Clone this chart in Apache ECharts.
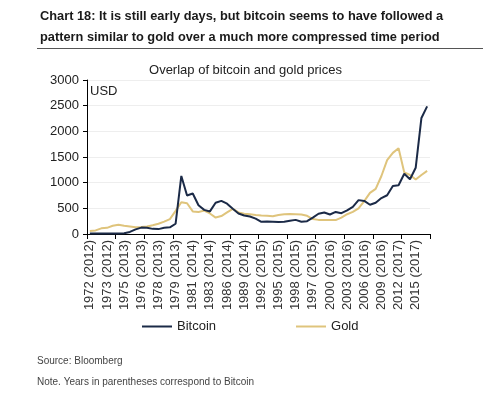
<!DOCTYPE html>
<html>
<head>
<meta charset="utf-8">
<script src="https://cdn.jsdelivr.net/npm/echarts@6/dist/echarts.min.js"></script>
<style>
  html, body { margin: 0; padding: 0; background: #fff; }
  #chart { width: 491px; height: 396px; }
</style>
</head>
<body>
<div id="chart"></div>
<script>
// x labels, one every 3 points (gold year, bitcoin year in brackets)
var xLabels = ['1972 (2012)', '1973 (2012)', '1975 (2013)', '1976 (2013)', '1978 (2013)',
  '1979 (2013)', '1981 (2014)', '1983 (2014)', '1986 (2014)', '1989 (2014)',
  '1992 (2015)', '1995 (2015)', '1998 (2015)', '1997 (2015)', '2000 (2016)',
  '2003 (2016)', '2006 (2016)', '2009 (2016)', '2012 (2017)', '2015 (2017)']

var bitcoin = [10, 8, 8, 10, 10, 12, 15, 40, 90, 125,
  120, 100, 95, 120, 130, 200, 1130, 750, 790, 560,
  470, 440, 610, 645, 590, 490, 400, 360, 340, 300,
  238, 245, 240, 235, 240, 260, 275, 240, 250, 320,
  395, 420, 380, 430, 406, 460, 530, 660, 645, 570,
  610, 700, 755, 936, 949, 1174, 1066, 1291, 2260, 2486]

var gold = [60, 70, 110, 120, 160, 180, 160, 145, 130, 135,
  145, 170, 200, 240, 290, 450, 620, 600, 440, 430,
  455, 400, 320, 350, 420, 490, 420, 395, 385, 370,
  360, 355, 345, 370, 385, 390, 387, 380, 355, 290,
  275, 275, 272, 271, 320, 385, 430, 500, 640, 800,
  880, 1130, 1440, 1580, 1670, 1200, 1150, 1060, 1150, 1230]

// 60 points, label on every 3rd
var categories = []
for (var i = 0; i < bitcoin.length; i++) {
  categories.push(i % 3 === 0 ? xLabels[i / 3] : '')
}

var font = 'Liberation Sans, Arial, sans-serif'
var chart = echarts.init(document.getElementById('chart'))

var option = {
  backgroundColor: '#fff',
  animation: false,
  textStyle: { fontFamily: font },
  graphic: [
    {
      type: 'text', left: 40, top: 6,
      style: {
        text: 'Chart 18: It is still early days, but bitcoin seems to have followed a\npattern similar to gold over a much more compressed time period',
        font: 'bold 12.8px ' + font, fill: '#1a1a1a', lineHeight: 21
      }
    },
    {
      type: 'line',
      shape: { x1: 37, y1: 48.5, x2: 483, y2: 48.5 },
      style: { stroke: '#555', lineWidth: 1 }
    },
    {
      type: 'text', left: 'center', top: 64,
      style: { text: 'Overlap of bitcoin and gold prices', font: '13px ' + font, fill: '#222' }
    },
    {
      type: 'text', left: 90, top: 85,
      style: { text: 'USD', font: '13px ' + font, fill: '#222' }
    },
    {
      type: 'text', left: 37, top: 356,
      style: { text: 'Source: Bloomberg', font: '10px ' + font, fill: '#444' }
    },
    {
      type: 'text', left: 37, top: 377,
      style: { text: 'Note. Years in parentheses correspond to Bitcoin', font: '10px ' + font, fill: '#444' }
    }
  ],
  grid: {
    left: 87,
    right: 61,
    top: 80,
    bottom: 162
  },
  legend: {
    left: 137,
    top: 315,
    itemWidth: 30,
    itemHeight: 2,
    itemGap: 80,
    icon: 'rect',
    textStyle: { fontSize: 13, color: '#222', fontFamily: font },
    data: ['Bitcoin', 'Gold']
  },
  xAxis: {
    type: 'category',
    data: categories,
    boundaryGap: true,
    axisLine: { lineStyle: { color: '#000', width: 1 } },
    axisTick: { show: true, interval: 4, length: 5, lineStyle: { color: '#000' } },
    axisLabel: {
      interval: 2,
      rotate: 90,
      margin: 6,
      fontSize: 13,
      color: '#333',
      fontFamily: font
    },
    splitLine: { show: false }
  },
  yAxis: {
    type: 'value',
    min: 0,
    max: 3000,
    interval: 500,
    axisLine: { show: true, lineStyle: { color: '#000', width: 1 } },
    axisTick: { show: true, length: 4, lineStyle: { color: '#000' } },
    axisLabel: {
      fontSize: 13,
      color: '#222',
      margin: 8,
      fontFamily: font,
      formatter: function (v) { return String(v) }
    },
    splitLine: { show: true, lineStyle: { color: '#eeeeee', width: 1 } }
  },
  series: [
    {
      name: 'Bitcoin',
      type: 'line',
      data: bitcoin,
      symbol: 'none',
      lineStyle: { color: '#1b2a47', width: 2 },
      itemStyle: { color: '#1b2a47' },
      z: 3
    },
    {
      name: 'Gold',
      type: 'line',
      data: gold,
      symbol: 'none',
      lineStyle: { color: '#dfc47c', width: 2 },
      itemStyle: { color: '#dfc47c' },
      z: 2
    }
  ]
}

chart.setOption(option)
</script>
</body>
</html>
